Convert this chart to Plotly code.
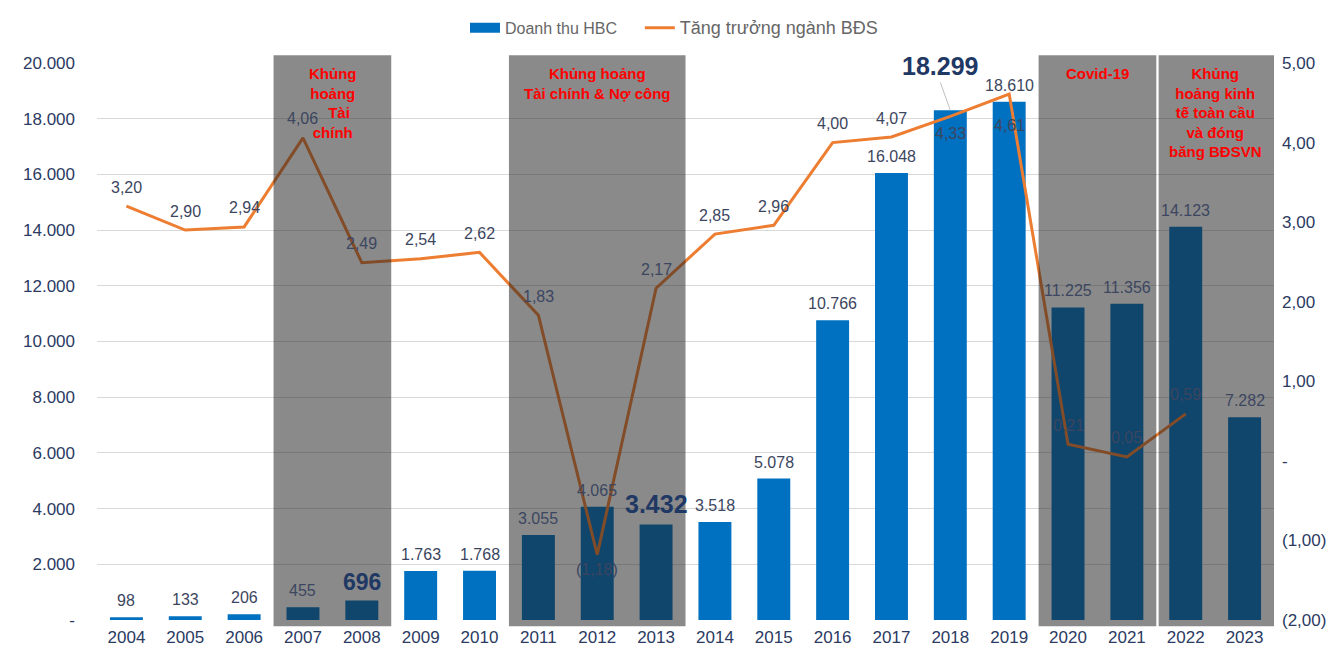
import plotly.graph_objects as go

years = list(range(2004, 2024))
revenue = [98, 133, 206, 455, 696, 1763, 1768, 3055, 4065, 3432, 3518, 5078,
           10766, 16048, 18299, 18610, 11225, 11356, 14123, 7282]
growth_years = list(range(2004, 2023))
growth = [3.20, 2.90, 2.94, 4.06, 2.49, 2.54, 2.62, 1.83, -1.18, 2.17, 2.85,
          2.96, 4.00, 4.07, 4.33, 4.61, 0.21, 0.05, 0.59]
left_ticks = [0, 2000, 4000, 6000, 8000, 10000, 12000, 14000, 16000, 18000, 20000]
left_ticktext = ["-", "2.000", "4.000", "6.000", "8.000", "10.000", "12.000",
                 "14.000", "16.000", "18.000", "20.000"]
right_ticks = [-2, -1, 0, 1, 2, 3, 4, 5]
right_ticktext = ["(2,00)", "(1,00)", "-", "1,00", "2,00", "3,00", "4,00", "5,00"]

crises = [
    (2007, 2008, "Khủng<br>hoảng<br>&nbsp;&nbsp;&nbsp;Tài<br>chính"),
    (2011, 2013, "Khủng hoảng<br>Tài chính & Nợ công"),
    (2020, 2021, "Covid-19"),
    (2022, 2023, "Khủng<br>hoảng kinh<br>tế toàn cầu<br>và đóng<br>băng BĐSVN"),
]

# label styling: bold emphasis and below-placement
bold_sizes = {2008: 23, 2013: 25, 2018: 25}
growth_below = {2012: 15, 2018: 17, 2019: 31}

BAR = "#0070C0"
ORANGE = "#ED7D31"
NAVY = "#2B3A62"
LABEL = "#3C4660"
FONT = "Liberation Sans, Arial"

def fmt_int(v):
    return f"{v:,}".replace(",", ".")

def fmt_dec(v):
    s = f"{abs(v):.2f}".replace(".", ",")
    return f"({s})" if v < 0 else s

fig = go.Figure()
fig.add_trace(go.Bar(x=years, y=revenue, name="Doanh thu HBC", showlegend=False,
                     marker=dict(color=BAR, line=dict(width=0)), width=0.56,
                     yaxis="y"))
# legend-only swatch for the bar series (wide rectangle like the reference)
fig.add_trace(go.Scatter(x=[None], y=[None], mode="lines",
                         name="Doanh thu HBC" + "&nbsp;" * 4,
                         line=dict(color=BAR, width=12), yaxis="y"))
fig.add_trace(go.Scatter(x=growth_years, y=growth,
                         name='<span style="font-size:18px">Tăng trưởng ngành BĐS</span>',
                         mode="lines", line=dict(color=ORANGE, width=3),
                         yaxis="y2"))

annotations = []
for yr, v in zip(years, revenue):
    if yr == 2018:
        annotations.append(dict(x=yr, y=v, xref="x", yref="y", text="<b>" + fmt_int(v) + "</b>",
                                showarrow=True, arrowhead=0, arrowwidth=1, arrowcolor="#BFBFBF",
                                ax=-10, ay=-28, yanchor="bottom",
                                font=dict(size=bold_sizes[yr], color="#1F3864", family=FONT)))
    elif yr in bold_sizes:
        annotations.append(dict(x=yr, y=v, xref="x", yref="y", text="<b>" + fmt_int(v) + "</b>",
                                showarrow=False, yanchor="bottom", yshift=4,
                                font=dict(size=bold_sizes[yr], color="#1F3864", family=FONT)))
    else:
        annotations.append(dict(x=yr, y=v, xref="x", yref="y", text=fmt_int(v),
                                showarrow=False, yanchor="bottom", yshift=6,
                                font=dict(size=16, color=LABEL, family=FONT)))

for yr, g in zip(growth_years, growth):
    shift = -growth_below[yr] if yr in growth_below else 19
    annotations.append(dict(x=yr, y=g, xref="x", yref="y2", text=fmt_dec(g),
                            showarrow=False, yanchor="middle", yshift=shift,
                            font=dict(size=16, color=LABEL, family=FONT)))

shapes = []
for a, b, txt in crises:
    x0 = a - 0.5 + (0.04 if a == 2022 else 0)
    shapes.append(dict(type="rect", xref="x", yref="paper", x0=x0, x1=b + 0.5,
                       y0=-0.011, y1=1.014, fillcolor="rgba(30,30,30,0.52)",
                       line=dict(width=0), layer="above"))
    annotations.append(dict(x=(a + b) / 2, y=1.0, xref="x", yref="paper",
                            text="<b>" + txt + "</b>", showarrow=False,
                            yanchor="top", align="center",
                            font=dict(size=15, color="#FF0000", family=FONT)))

fig.update_layout(
    width=1332, height=648,
    margin=dict(l=97, r=58, t=63, b=28, autoexpand=False),
    paper_bgcolor="white", plot_bgcolor="white",
    font=dict(family=FONT, color=NAVY),
    showlegend=True,
    legend=dict(orientation="h", x=0.506, xref="container", xanchor="center",
                y=0.957, yref="container", yanchor="middle",
                font=dict(size=16, color="#666666"), bgcolor="rgba(0,0,0,0)"),
    xaxis=dict(range=[2003.5, 2023.5], tickvals=years, ticktext=[str(y) for y in years],
               showgrid=False, zeroline=False, showline=False, automargin=False,
               tickfont=dict(size=17, color=NAVY), ticklabelstandoff=5),
    yaxis=dict(range=[0, 20000], tickvals=left_ticks, ticktext=left_ticktext,
               showgrid=True, gridcolor="#D9D9D9", gridwidth=1, zeroline=False,
               showline=False, automargin=False,
               tickfont=dict(size=17, color=NAVY), ticklabelstandoff=21),
    yaxis2=dict(range=[-2, 5], tickvals=right_ticks, ticktext=right_ticktext,
                overlaying="y", side="right", showgrid=False, zeroline=False,
                showline=False, automargin=False,
                tickfont=dict(size=17, color=NAVY), ticklabelstandoff=7),
    shapes=shapes,
    annotations=annotations,
)

fig.write_html("out.html", config={"displayModeBar": False},
               post_script="document.body.style.margin='0';document.body.style.overflow='hidden';")
